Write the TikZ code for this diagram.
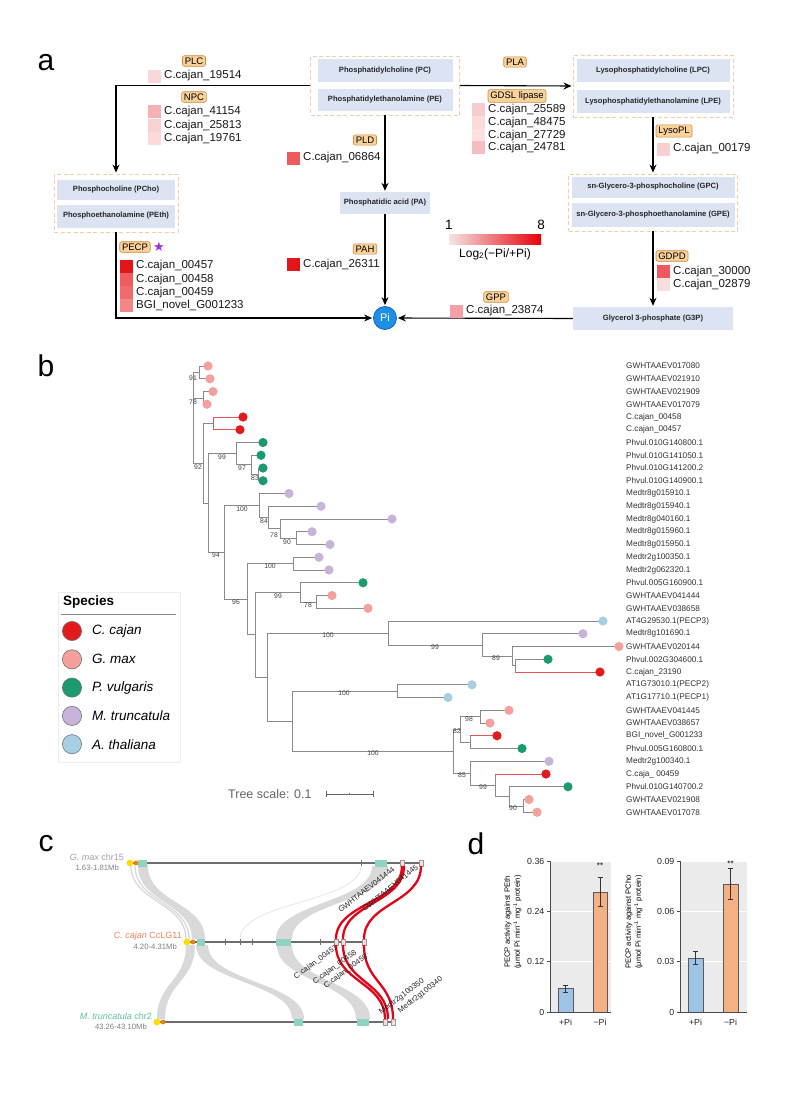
\documentclass[tikz,border=0pt]{standalone}
\usepackage{fontspec}
\setmainfont{Liberation Sans}
\newfontfamily\djv{DejaVu Sans}
\usetikzlibrary{arrows.meta}
\newcommand\fsz[1]{\fontsize{#1}{\fpeval{#1*1.2}}\selectfont}
\definecolor{tagfill}{HTML}{FAD29C}
\definecolor{tagdraw}{HTML}{D08A3C}
\definecolor{metfill}{HTML}{DCE3F3}
\definecolor{grpdraw}{HTML}{F2CFA6}
\definecolor{pblue}{HTML}{1E8FE6}
\definecolor{pbluedk}{HTML}{1565C0}
\definecolor{starpurple}{HTML}{9B30D9}
\definecolor{tline}{HTML}{8A8A8A}
\definecolor{spred}{HTML}{E31A1C}
\definecolor{sppink}{HTML}{F4A09C}
\definecolor{spgreen}{HTML}{1B9A70}
\definecolor{sppurple}{HTML}{C8B4DA}
\definecolor{spblue}{HTML}{A6CFE4}
\definecolor{chrom}{HTML}{6E6E6E}
\definecolor{blockteal}{HTML}{8ED3C3}
\definecolor{ribbonc}{HTML}{D9D9D9}
\definecolor{redlink}{HTML}{E0061A}
\definecolor{barblue}{HTML}{9DC3E6}
\definecolor{barorange}{HTML}{F4B183}
\definecolor{plotbg}{HTML}{EBEBEB}
\definecolor{gmaxc}{HTML}{A0A0B8}
\definecolor{cajanc}{HTML}{E8875E}
\definecolor{medc}{HTML}{5CC0A5}
\newcommand\gene[5]{%
  \definecolor{tmpc}{HTML}{#4}%
  \fill[tmpc] (#2,{#3-6.5}) rectangle ({#2+13},{#3+6.5});
  \node[gtxt] (#1) at ({#2+16},#3) {#5};}
\newcommand\TrV[3]{\draw[br] (#1,#2) -- (#1,#3);}
\newcommand\TrH[3]{\draw[br] (#1,#3) -- (#2,#3);}
\newcommand\ribbon[6]{%
  \fill[ribbonc] (#1,#3) .. controls (#1,{(#3+#6)/2}) and (#4,{(#3+#6)/2}) .. (#4,#6) -- (#5,#6) .. controls (#5,{(#3+#6)/2}) and (#2,{(#3+#6)/2}) .. (#2,#3) -- cycle;}
\begin{document}
\begin{tikzpicture}[x=1pt,y=-1pt,
  tag/.style={draw=tagdraw, fill=tagfill, rounded corners=2pt, inner xsep=2.3pt, inner ysep=1.9pt, font=\fsz{9.5}, line width=0.6pt},
  grp/.style={draw=grpdraw, dash pattern=on 4pt off 2.5pt, line width=0.9pt, inner sep=0pt},
  met/.style={fill=metfill, inner sep=0pt, font=\bfseries\fsz{7.6}, text=black!85},
  arr/.style={-{Stealth[length=8pt,width=7pt]}, line width=1.1pt, shorten >=1pt},
  gtxt/.style={anchor=west, font=\fsz{11.5}, inner sep=0pt, text=black!90},
  panel/.style={font=\fsz{30}, inner sep=0pt},
  leaf/.style={anchor=west, font=\fsz{8.2}, inner sep=0pt, text=black!80},
  bs/.style={font=\fsz{6.8}, inner sep=0pt, text=black!75},
  br/.style={draw=tline, line width=0.7pt},
  brred/.style={draw=spred!75, line width=0.7pt},
  clab/.style={anchor=west, font=\fsz{7.7}, inner sep=0pt, text=black!85},
  tick/.style={font=\fsz{8.8}, inner sep=0pt, text=black!85},
]
\useasboundingbox (0,0) rectangle (800,1120);
\fill[white] (0,0) rectangle (800,1120);

% ================= panel a =================
\node[panel] (la) at (46,63) {a};
\node[grp, minimum width=149pt, minimum height=59pt] (pcg) at (385,85.5) {};
\node[met, minimum width=135pt, minimum height=23pt] (pc) at (385,70.5) {Phosphatidylcholine (PC)};
\node[met, minimum width=135pt, minimum height=22pt] (pe) at (385,100) {Phosphatidylethanolamine (PE)};
\node[grp, minimum width=124pt, minimum height=58pt] (pchog) at (116,203) {};
\node[met, minimum width=118pt, minimum height=20pt] (pcho) at (116,190) {Phosphocholine (PCho)};
\node[met, minimum width=118pt, minimum height=23pt] (peth) at (116,216) {Phosphoethanolamine (PEth)};
\node[grp, minimum width=160pt, minimum height=62pt] (lpcg) at (653,86) {};
\node[met, minimum width=153pt, minimum height=23pt] (lpc) at (653,70.5) {Lysophosphatidylcholine (LPC)};
\node[met, minimum width=153pt, minimum height=23pt] (lpe) at (653,101.5) {Lysophosphatidylethanolamine (LPE)};
\node[grp, minimum width=169pt, minimum height=57pt] (gpcg) at (653,202.5) {};
\node[met, minimum width=163pt, minimum height=21pt] (gpc) at (653,187) {sn-Glycero-3-phosphocholine (GPC)};
\node[met, minimum width=163pt, minimum height=24pt] (gpe) at (653,215) {sn-Glycero-3-phosphoethanolamine (GPE)};
\node[met, minimum width=90pt, minimum height=22pt] (pa) at (385,203) {Phosphatidic acid (PA)};
\node[met, minimum width=160pt, minimum height=23pt] (g3p) at (653,318.5) {Glycerol 3-phosphate (G3P)};
\node[circle, fill=pblue, draw=pbluedk, line width=0.8pt, minimum size=23pt, inner sep=0pt, text=white, font=\fsz{11}] (pi) at (385,318) {Pi};

\draw[arr] (pcg.west) -| (pchog.north);
\draw[arr] (pchog.south) |- (pi.west);
\draw[arr] (pcg.south) -- (pa.north);
\draw[arr] (pa.south) -- (pi.north);
\draw[arr] (pcg.east) -- (lpcg.west);
\draw[arr] (lpcg.south) -- (gpcg.north);
\draw[arr] (gpcg.south) -- (g3p.north);
\draw[arr] (g3p.west) -- (pi.east);

\node[tag] (tplc) at (194,61) {PLC};
\node[tag] (tnpc) at (194,97) {NPC};
\node[tag] (tpecp) at (135,247) {PECP};
\node[text=starpurple, font=\djv\fsz{13}, inner sep=0pt] (star) at (159,247) {★};
\node[tag] (tpld) at (365,140) {PLD};
\node[tag] (tpah) at (365,249) {PAH};
\node[tag] (tpla) at (515,62) {PLA};
\node[tag] (tgdsl) at (517,96) {GDSL lipase};
\node[tag] (tlyso) at (674,131) {LysoPL};
\node[tag] (tgdpd) at (672,256) {GDPD};
\node[tag] (tgpp) at (496,297) {GPP};

\gene{g19514}{148}{76}{F9D8D9}{C.cajan\_19514}
\gene{g41154}{148}{111.7}{F4B2B4}{C.cajan\_41154}
\gene{g25813}{148}{125.2}{F8D1D3}{C.cajan\_25813}
\gene{g19761}{148}{138.7}{FADADB}{C.cajan\_19761}
\gene{g00457}{120}{266}{E3141A}{C.cajan\_00457}
\gene{g00458}{120}{279.3}{EE5C60}{C.cajan\_00458}
\gene{g00459}{120}{292.6}{F06A6E}{C.cajan\_00459}
\gene{gbgi}{120}{305.9}{F28689}{BGI\_novel\_G001233}
\gene{g06864}{287}{158}{EE5B5F}{C.cajan\_06864}
\gene{g26311}{287}{264.5}{E31519}{C.cajan\_26311}
\gene{g25589}{472}{109.6}{F8CDCF}{C.cajan\_25589}
\gene{g48475}{472}{122.4}{FADCDD}{C.cajan\_48475}
\gene{g27729}{472}{135.1}{FBE1E2}{C.cajan\_27729}
\gene{g24781}{472}{147.8}{F6BEC0}{C.cajan\_24781}
\gene{g00179}{657}{149}{F8D0D2}{C.cajan\_00179}
\gene{g30000}{657}{271.5}{EF585C}{C.cajan\_30000}
\gene{g02879}{657}{284.5}{FADDDE}{C.cajan\_02879}
\gene{g23874}{450}{311}{F3A1A4}{C.cajan\_23874}

\definecolor{cbl}{HTML}{F6E4E4}\definecolor{cbr}{HTML}{E6000A}
\shade[left color=cbl, right color=cbr] (449,234) rectangle (541,244);
\node[font=\fsz{13.5}, inner sep=0pt] (cb1) at (449,225) {1};
\node[font=\fsz{13.5}, inner sep=0pt] (cb8) at (541,225) {8};
\node[font=\fsz{12}, inner sep=0pt] (cbl) at (495,254) {Log\textsubscript{2}(−Pi/+Pi)};

% ================= panel b =================
\node[panel] (lb) at (46,366) {b};
\TrV{193}{372.4}{463.2}
\TrH{193}{199}{372.4}\TrH{193}{203}{397.9}\TrH{193}{203}{463.2}
\TrV{199}{366}{378.75}\TrH{199}{208}{366}\TrH{199}{210}{378.75}
\TrV{203}{391.5}{404.25}\TrH{203}{213}{391.5}\TrH{203}{207}{404.25}
\TrV{203}{423.4}{503}\TrH{203}{213}{423.4}\TrH{203}{208}{503}
\draw[brred] (213,417) -- (213,429.75);
\draw[brred] (213,417) -- (243,417);
\draw[brred] (213,429.75) -- (240,429.75);
\TrV{208}{453.7}{552.3}\TrH{208}{236}{453.7}\TrH{208}{224}{552.3}
\TrV{236}{442.5}{464.8}\TrH{236}{263}{442.5}\TrH{236}{251}{464.8}
\TrV{251}{455.25}{474.4}\TrH{251}{261}{455.25}\TrH{251}{258}{474.4}
\TrV{258}{468}{480.75}\TrH{258}{263}{468}\TrH{258}{263}{480.75}
\TrV{224}{505.5}{599.2}\TrH{224}{259}{505.5}\TrH{224}{247}{599.2}
\TrV{259}{493.5}{517.4}\TrH{259}{289}{493.5}\TrH{259}{268}{517.4}
\TrV{268}{506.25}{528.6}\TrH{268}{321}{506.25}\TrH{268}{280}{528.6}
\TrV{280}{519}{538.1}\TrH{280}{392}{519}\TrH{280}{296}{538.1}
\TrV{296}{531.75}{544.5}\TrH{296}{312}{531.75}\TrH{296}{330}{544.5}
\TrV{247}{563.6}{634.7}\TrH{247}{293}{563.6}\TrH{247}{255}{634.7}
\TrV{293}{557.25}{570}\TrH{293}{319}{557.25}\TrH{293}{329}{570}
\TrV{255}{592.3}{677.1}\TrH{255}{300}{592.3}\TrH{255}{267}{677.1}
\TrV{300}{582.75}{601.9}\TrH{300}{363}{582.75}\TrH{300}{316}{601.9}
\TrV{316}{595.5}{608.25}\TrH{316}{332}{595.5}\TrH{316}{368}{608.25}
\TrV{267}{633}{721.2}\TrH{267}{388}{633}\TrH{267}{292}{721.2}
\TrV{388}{621}{644.9}\TrH{388}{603}{621}\TrH{388}{482}{644.9}
\TrV{482}{633.75}{656.1}\TrH{482}{583}{633.75}\TrH{482}{512}{656.1}
\TrV{512}{646.5}{665.6}\TrH{512}{619}{646.5}\TrH{512}{515}{665.6}
\TrV{515}{659.25}{672}\TrH{515}{548}{659.25}
\draw[brred] (515,672) -- (600,672);
\TrV{292}{691.1}{751.3}\TrH{292}{397}{691.1}\TrH{292}{453}{751.3}
\TrV{397}{684.75}{697.5}\TrH{397}{472}{684.75}\TrH{397}{448}{697.5}
\TrV{453}{729.4}{773.2}\TrH{453}{460}{729.4}\TrH{453}{470}{773.2}
\TrV{460}{716.6}{742.1}\TrH{460}{480}{716.6}\TrH{460}{470}{742.1}
\TrV{480}{710.25}{723}\TrH{480}{509}{710.25}\TrH{480}{490}{723}
\TrV{470}{735.75}{748.5}\TrH{470}{522}{748.5}
\draw[brred] (470,735.75) -- (497,735.75);
\TrV{470}{761.25}{785.2}\TrH{470}{549}{761.25}\TrH{470}{495}{785.2}
\TrV{495}{774}{796.3}\TrH{495}{509}{796.3}
\draw[brred] (495,774) -- (546,774);
\TrV{509}{786.75}{805.9}\TrH{509}{568}{786.75}\TrH{509}{523}{805.9}
\TrV{523}{799.5}{812.25}\TrH{523}{529}{799.5}\TrH{523}{537}{812.25}

\foreach \i/\xx/\cc/\nm in {
0/208/sppink/GWHTAAEV017080,
1/210/sppink/GWHTAAEV021910,
2/213/sppink/GWHTAAEV021909,
3/207/sppink/GWHTAAEV017079,
4/243/spred/C.cajan\_00458,
5/240/spred/C.cajan\_00457,
6/263/spgreen/Phvul.010G140800.1,
7/261/spgreen/Phvul.010G141050.1,
8/263/spgreen/Phvul.010G141200.2,
9/263/spgreen/Phvul.010G140900.1,
10/289/sppurple/Medtr8g015910.1,
11/321/sppurple/Medtr8g015940.1,
12/392/sppurple/Medtr8g040160.1,
13/312/sppurple/Medtr8g015960.1,
14/330/sppurple/Medtr8g015950.1,
15/319/sppurple/Medtr2g100350.1,
16/329/sppurple/Medtr2g062320.1,
17/363/spgreen/Phvul.005G160900.1,
18/332/sppink/GWHTAAEV041444,
19/368/sppink/GWHTAAEV038658,
20/603/spblue/AT4G29530.1(PECP3),
21/583/sppurple/Medtr8g101690.1,
22/619/sppink/GWHTAAEV020144,
23/548/spgreen/Phvul.002G304600.1,
24/600/spred/C.cajan\_23190,
25/472/spblue/AT1G73010.1(PECP2),
26/448/spblue/AT1G17710.1(PECP1),
27/509/sppink/GWHTAAEV041445,
28/490/sppink/GWHTAAEV038657,
29/497/spred/BGI\_novel\_G001233,
30/522/spgreen/Phvul.005G160800.1,
31/549/sppurple/Medtr2g100340.1,
32/546/spred/C.caja\_ 00459,
33/568/spgreen/Phvul.010G140700.2,
34/529/sppink/GWHTAAEV021908,
35/537/sppink/GWHTAAEV017078}{
  \pgfmathsetmacro\yy{366+12.75*\i}
  \fill[\cc] (\xx,\yy) circle (4.6);
  \node[leaf] (lf\i) at (626,\yy) {\nm};
}
\foreach \xx/\yy/\t [count=\k] in {193/378/91, 193/402/78, 198/467/92, 222/457/99, 242/468/97, 255/478/83, 242/509/100, 264/521/84, 274/535/78, 287/542/90, 216/555/94, 270/566/100, 236/602/96, 278/596/99, 308/605/78, 328/635/100, 435/647/99, 496/658/89, 344/693/100, 373/753/100, 469/719/98, 457/731/82, 462/775/85, 483/787/99, 513/808/90}
  \node[bs] (bs\k) at (\xx,\yy) {\t};

% legend
\draw[black!7, fill=white, line width=0.8pt] (58,592) rectangle (180,762);
\node[anchor=west, font=\bfseries\fsz{13.5}, inner sep=0pt] (lgt) at (63,602) {Species};
\draw[black!45, line width=0.9pt] (61,614) -- (176,614);
\foreach \cc/\nm [count=\k] in {spred/C. cajan, sppink/G. max, spgreen/P. vulgaris, sppurple/M. truncatula, spblue/A. thaliana}{
  \pgfmathsetmacro\yy{631+28.3*(\k-1)}
  \filldraw[fill=\cc, draw=black!55, line width=0.6pt] (72,\yy) circle (9.6);
  \node[anchor=west, font=\itshape\fsz{13.5}, inner sep=0pt] (lg\k) at (92,\yy) {\nm};
}
\node[anchor=west, font=\fsz{12.5}, text=black!60, inner sep=0pt] (tsc) at (228,794) {Tree scale: 0.1};
\draw[black!60, line width=0.8pt] (326,794) -- (373,794);
\draw[black!60, line width=0.8pt] (326,791) -- (326,797) (373,791) -- (373,797) (349.5,793) -- (349.5,795);

% ================= panel c =================
\node[panel] (lc) at (46,844) {c};
\ribbon{138}{148}{866}{192}{205}{939}
\draw[ribbonc, line width=1.3pt] (131,866) .. controls (131,902) and (186,902) .. (186,939);
\draw[ribbonc, line width=1.3pt] (135,866) .. controls (135,902) and (189,902) .. (189,939);
\ribbon{186}{195}{945}{157}{165}{1019}
\ribbon{196}{208}{945}{292}{304}{1019}
\ribbon{372}{388}{866}{276}{292}{939}
\ribbon{277}{292}{945}{356}{370}{1019}
\draw[ribbonc!60, line width=0.9pt] (361,866) .. controls (361,902) and (240,902) .. (240,939);

\draw[chrom, line width=1.8pt] (130,863) -- (423,863);
\draw[chrom, line width=1.8pt] (187,942) -- (365,942);
\draw[chrom, line width=1.8pt] (157,1022) -- (393,1022);
\foreach \xx in {225,240,252,320} \draw[chrom, line width=0.7pt] (\xx,939) -- (\xx,945);
\draw[chrom, line width=0.8pt] (361,860) -- (361,866);
\fill[blockteal] (138,859.5) rectangle (147,866.5);
\fill[blockteal] (375,859.5) rectangle (387,866.5);
\fill[blockteal] (197,938.5) rectangle (205,945.5);
\fill[blockteal] (276,938.5) rectangle (291,945.5);
\fill[blockteal] (294,1018.5) rectangle (303,1025.5);
\fill[blockteal] (357,1018.5) rectangle (369,1025.5);
\foreach \xx/\yy in {130/863, 187/942, 157/1022}{
  \fill[yellow!80!orange] (\xx,\yy) circle (3.4);
  \fill[orange!70!brown] ({\xx+6},\yy) circle (2.4);
}
\foreach \xx/\yy in {402/863, 421/863, 336/942, 343/942, 364/942, 385/1022, 393/1022}
  \filldraw[fill=pink!60, draw=black!40, line width=0.4pt] ({\xx-2},{\yy-3}) rectangle ({\xx+2},{\yy+3});

\foreach \a/\b in {402/336, 404/343, 421/364}
  \draw[redlink, line width=2.3pt] (\a,866) .. controls (\a,903) and (\b,903) .. (\b,939);
\foreach \a/\b in {336/385, 343/388, 364/393}
  \draw[redlink, line width=2.3pt] (\a,945) .. controls (\a,982) and (\b,982) .. (\b,1019);

\node[clab, rotate=38] (cg44) at (339,911) {GWHTAAEV041444};
\node[clab, rotate=39] (cg45) at (363,910) {GWHTAAEV041445};
\node[clab, anchor=east, rotate=36] (cc57) at (337,947) {C.cajan\_00457};
\node[clab, anchor=east, rotate=36] (cc58) at (356,952) {C.cajan\_00458};
\node[clab, anchor=east, rotate=36] (cc59) at (367,956) {C.cajan\_00459};
\node[clab, rotate=37] (cm50) at (380,1013) {Medtr2g100350};
\node[clab, rotate=38] (cm40) at (399,1012) {Medtr2g100340};

\node[anchor=east, inner sep=0pt, font=\fsz{9}, text=gmaxc] (ng1) at (124,857) {{\itshape G. max} chr15};
\node[anchor=east, inner sep=0pt, font=\fsz{7.7}, text=gmaxc!80!black] (ng2) at (119,868) {1.63-1.81Mb};
\node[anchor=east, inner sep=0pt, font=\fsz{9}, text=cajanc] (nc1) at (182,936) {{\itshape C. cajan} CcLG11};
\node[anchor=east, inner sep=0pt, font=\fsz{7.7}, text=black!50] (nc2) at (177,947) {4.20-4.31Mb};
\node[anchor=east, inner sep=0pt, font=\fsz{9}, text=medc] (nm1) at (152,1016) {{\itshape M. truncatula} chr2};
\node[anchor=east, inner sep=0pt, font=\fsz{7.7}, text=black!50] (nm2) at (147,1027) {43.26-43.10Mb};

% ================= panel d =================
\node[panel] (ld) at (476,844) {d};
\fill[plotbg] (550,861) rectangle (611,1012);
\foreach \yy in {861,911.3,961.7} \draw[white, line width=0.8pt] (550,\yy) -- (611,\yy);
\filldraw[fill=barblue, draw=black!65, line width=0.6pt] (558,1012) rectangle (573,988);
\filldraw[fill=barorange, draw=black!65, line width=0.6pt] (593,1012) rectangle (607,892.5);
\draw[black!80, line width=0.6pt] (565.5,985) -- (565.5,992) (563,985) -- (568,985) (563,992) -- (568,992);
\draw[black!80, line width=0.6pt] (600,877) -- (600,906) (597.5,877) -- (602.5,877) (597.5,906) -- (602.5,906);
\draw[black!70, line width=0.8pt] (550,861) -- (550,1012) -- (611,1012);
\foreach \yy/\t [count=\k] in {861/0.36, 911.3/0.24, 961.7/0.12, 1012/0}{
  \draw[black!70, line width=0.6pt] (547,\yy) -- (550,\yy);
  \node[tick, anchor=east] (ya\k) at (544.5,\yy) {\t};
}
\node[font=\fsz{8}, inner sep=0pt] (sa) at (600,866) {**};
\node[tick] (xa1) at (565.5,1022) {+Pi};
\node[tick] (xa2) at (600,1022) {−Pi};
\node[rotate=90, align=center, font=\fontsize{7.6}{10}\selectfont, inner sep=0pt] (yta) at (513,922) {PECP activity against PEth\\(μmol Pi min\textsuperscript{-1} mg\textsuperscript{-1} protein)};
\fill[plotbg] (680,861) rectangle (747,1012);
\foreach \yy in {861,911.3,961.7} \draw[white, line width=0.8pt] (680,\yy) -- (747,\yy);
\filldraw[fill=barblue, draw=black!65, line width=0.6pt] (688,1012) rectangle (703,958.3);
\filldraw[fill=barorange, draw=black!65, line width=0.6pt] (723,1012) rectangle (738,884.5);
\draw[black!80, line width=0.6pt] (695.5,951) -- (695.5,964) (693,951) -- (698,951) (693,964) -- (698,964);
\draw[black!80, line width=0.6pt] (730.5,868) -- (730.5,899) (728,868) -- (733,868) (728,899) -- (733,899);
\draw[black!70, line width=0.8pt] (680,861) -- (680,1012) -- (747,1012);
\foreach \yy/\t [count=\k] in {861/0.09, 911.3/0.06, 961.7/0.03, 1012/0}{
  \draw[black!70, line width=0.6pt] (677,\yy) -- (680,\yy);
  \node[tick, anchor=east] (yb\k) at (674.5,\yy) {\t};
}
\node[font=\fsz{8}, inner sep=0pt] (sb) at (730.5,864) {**};
\node[tick] (xb1) at (695.5,1022) {+Pi};
\node[tick] (xb2) at (730.5,1022) {−Pi};
\node[rotate=90, align=center, font=\fontsize{7.6}{10}\selectfont, inner sep=0pt] (ytb) at (634,922) {PECP activity against PCho\\(μmol Pi min\textsuperscript{-1} mg\textsuperscript{-1} protein)};
\end{tikzpicture}
\end{document}
